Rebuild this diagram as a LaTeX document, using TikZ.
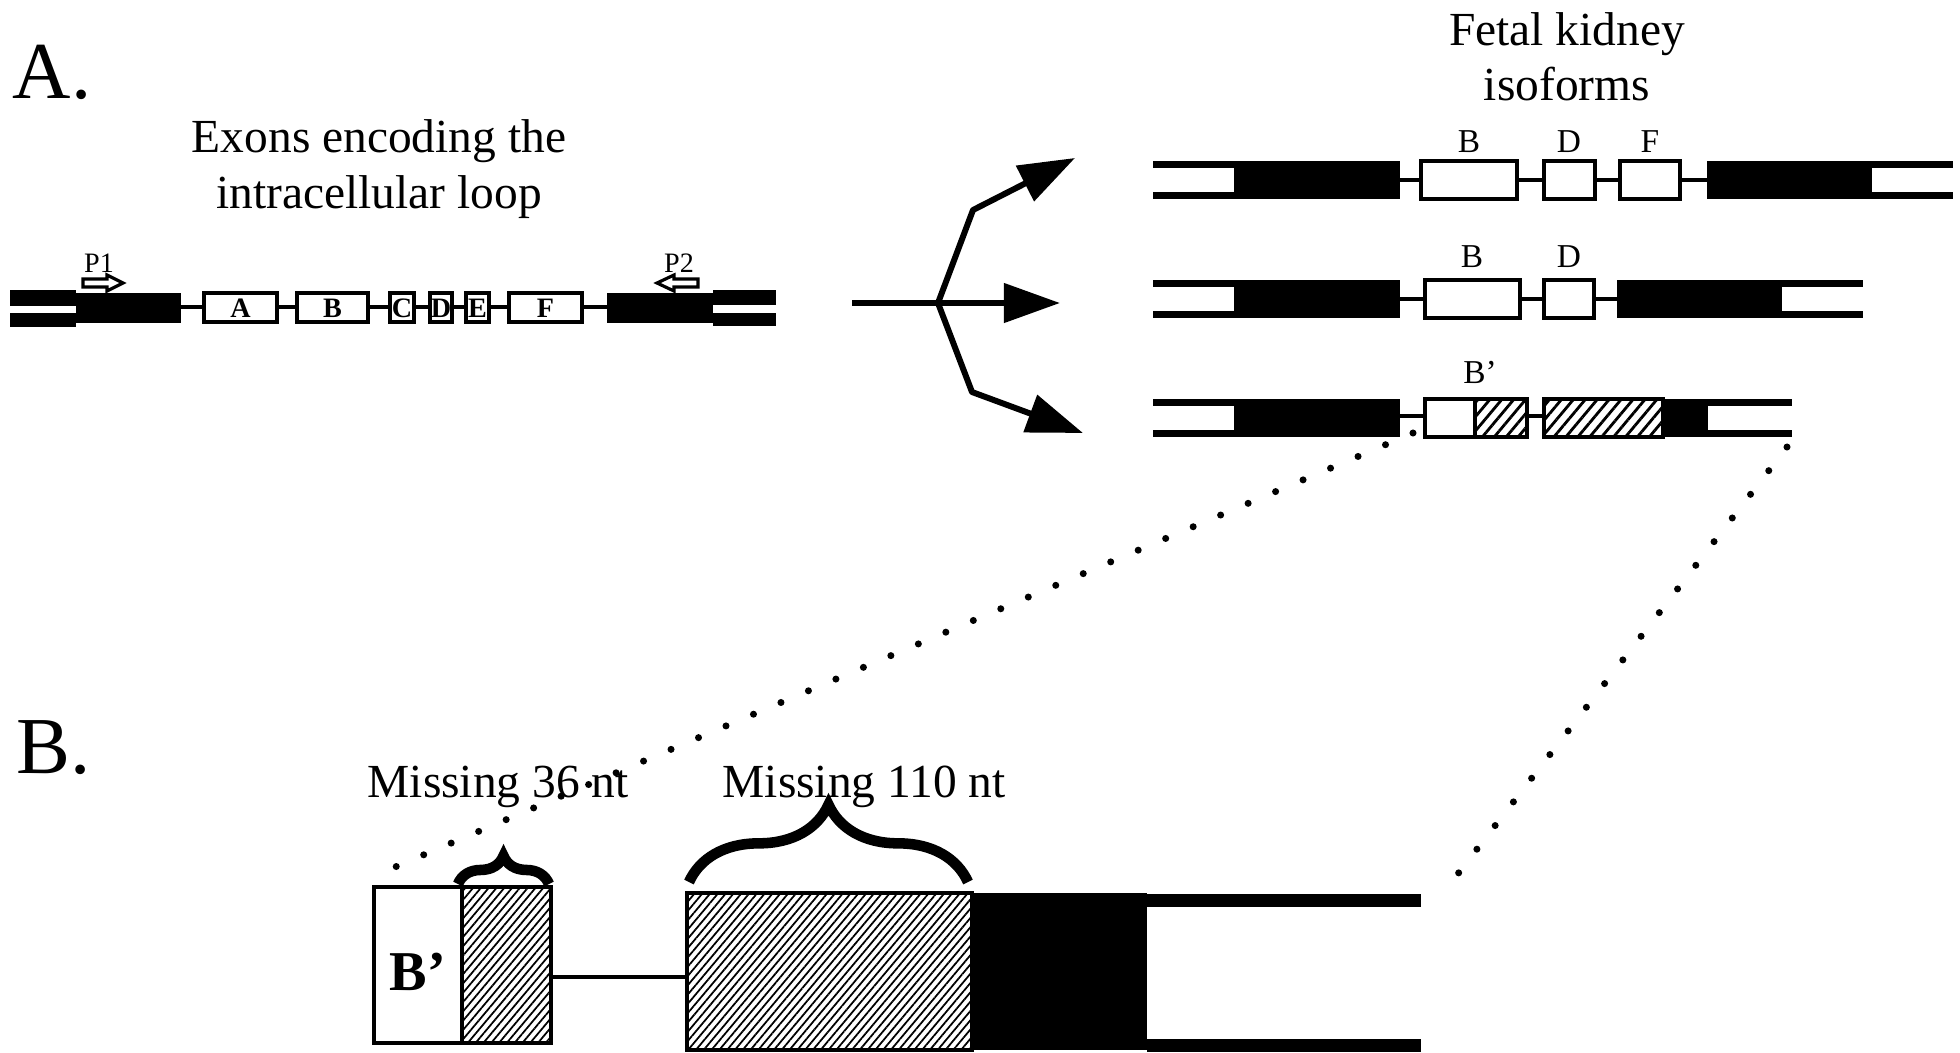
\documentclass[tikz,border=0pt]{standalone}
\usepackage{fontspec}
\setmainfont{Liberation Serif}
\usetikzlibrary{arrows.meta,patterns.meta,decorations.pathreplacing}
\tikzset{
  ex bar/.style={fill=black},
  ex box/.style={draw=black, fill=white, line width=0.9pt},
  ex hatch/.style={draw=black, line width=0.9pt, preaction={fill=white}, pattern={Lines[angle=50,distance=2.6pt,line width=0.8pt]}},
  ex hatch big/.style={draw=black, line width=1pt, preaction={fill=white}, pattern={Lines[angle=50,distance=1.7pt,line width=0.5pt]}},
  ex line/.style={line width=0.9pt},
  ex lbl/.style={font=\fontsize{8}{8}\selectfont\bfseries, inner sep=0pt},
  iso lbl/.style={font=\fontsize{9.5}{10}\selectfont, anchor=base, inner sep=0pt},
  ttl/.style={font=\fontsize{13.5}{16}\selectfont, anchor=base, inner sep=0pt},
  panel/.style={font=\fontsize{23}{23}\selectfont, anchor=base west, inner sep=0pt},
  primer/.style={draw=black, fill=white, line width=0.9pt},
  primer lbl/.style={font=\fontsize{8}{8}\selectfont, anchor=base, inner sep=0pt},
  fork arr/.style={line width=1.7pt, line join=round, -{Triangle[length=16pt,width=11pt]}},
  zoom dots/.style={line width=2pt, line cap=round, dash pattern=on 0pt off 8.5pt},
  gap brace/.style={decorate, line width=3pt, decoration={brace, amplitude=#1}},
}
\begin{document}
\begin{tikzpicture}[x=0.1mm, y=-0.1mm]
  \useasboundingbox (0,0) rectangle (1960,1052);

  % panel A: genomic exons
  \node[panel] (pA) at (12,98) {A.};
  \node[ttl] (tA1) at (379,152) {Exons encoding the};
  \node[ttl] (tA2) at (379,208) {intracellular loop};

  \fill[ex bar] (10,290) rectangle (76,306);
  \fill[ex bar] (10,313) rectangle (76,327);
  \fill[ex bar] (76,293) rectangle (181,323);
  \draw[ex line] (181,307) -- (607,307);
  \foreach \xa/\xb/\lb in {204/277/A,297/368/B,390/414/C,430/452/D,466/489/E,509/582/F} {
    \draw[ex box] (\xa,293) rectangle (\xb,322);
    \node[ex lbl] (ex\lb) at ({(\xa+\xb)/2},308) {\lb};
  }
  \fill[ex bar] (607,293) rectangle (713,323);
  \fill[ex bar] (713,290) rectangle (776,305);
  \fill[ex bar] (713,313) rectangle (776,326);

  % primers
  \node[primer lbl] (p1) at (99,272) {P1};
  \node[primer lbl] (p2) at (679,272) {P2};
  \draw[primer] (83,279) -- (107,279) -- (107,275) -- (123,283) -- (107,291) -- (107,287) -- (83,287) -- cycle;
  \draw[primer] (698,279) -- (674,279) -- (674,275) -- (657,283) -- (674,291) -- (674,287) -- (698,287) -- cycle;

  % splitting arrow
  \coordinate (src) at (852,303);
  \coordinate (fork) at (938,303);
  \coordinate (bendU) at (973,210);
  \coordinate (bendL) at (972,392);
  \coordinate (tipU) at (1075,158);
  \coordinate (tipM) at (1060,303);
  \coordinate (tipL) at (1083,433);
  \draw[fork arr] (src) -- (tipM);
  \draw[fork arr] (fork) -- (bendU) -- (tipU);
  \draw[fork arr] (fork) -- (bendL) -- (tipL);

  % isoforms
  \node[ttl] (fk1) at (1567,45) {Fetal kidney};
  \node[ttl] (fk2) at (1567,100) {isoforms};
  \foreach \yt/\yb in {161/199,280/318,399/437} {
    \fill[ex bar] (1153,\yt) rectangle (1234,\yt+7);
    \fill[ex bar] (1153,\yb-7) rectangle (1234,\yb);
    \fill[ex bar] (1234,\yt) rectangle (1400,\yb);
  }
  % isoform 1
  \draw[ex line] (1400,180) -- (1707,180);
  \foreach \xa/\xb in {1421/1517,1544/1595,1620/1680}
    \draw[ex box] (\xa,161) rectangle (\xb,199);
  \fill[ex bar] (1707,161) rectangle (1872,199);
  \fill[ex bar] (1872,161) rectangle (1953,168);
  \fill[ex bar] (1872,192) rectangle (1953,199);
  \node[iso lbl] (i1B) at (1469,152) {B};
  \node[iso lbl] (i1D) at (1569,152) {D};
  \node[iso lbl] (i1F) at (1650,152) {F};
  % isoform 2
  \draw[ex line] (1400,299) -- (1617,299);
  \foreach \xa/\xb in {1425/1520,1544/1594}
    \draw[ex box] (\xa,280) rectangle (\xb,318);
  \fill[ex bar] (1617,280) rectangle (1782,318);
  \fill[ex bar] (1782,280) rectangle (1863,287);
  \fill[ex bar] (1782,311) rectangle (1863,318);
  \node[iso lbl] (i2B) at (1472,267) {B};
  \node[iso lbl] (i2D) at (1569,267) {D};
  % isoform 3
  \draw[ex line] (1400,416) -- (1544,416);
  \draw[ex box] (1425,399) rectangle (1475,437);
  \draw[ex hatch] (1475,399) rectangle (1527,437);
  \fill[ex bar] (1663,399) rectangle (1708,437);
  \draw[ex hatch] (1544,399) rectangle (1663,437);
  \fill[ex bar] (1708,399) rectangle (1792,406);
  \fill[ex bar] (1708,430) rectangle (1792,437);
  \node[iso lbl] (i3B) at (1480,383) {B’};

  % zoom lines
  \coordinate (zl0) at (1413,433);
  \coordinate (zl1) at (374,876);
  \coordinate (zr0) at (1787,447);
  \coordinate (zr1) at (1447,888);
  \draw[zoom dots] (zl0) -- (zl1);
  \draw[zoom dots] (zr0) -- (zr1);

  % panel B: enlarged B' region
  \node[panel] (pB) at (16,773) {B.};
  \draw[ex box, line width=1pt] (374,887) rectangle (462,1043);
  \draw[ex hatch big] (462,887) rectangle (551,1043);
  \draw[line width=1.1pt] (551,977) -- (687,977);
  \fill[ex bar] (972,893) rectangle (1147,1050);
  \draw[ex hatch big] (687,893) rectangle (972,1050);
  \fill[ex bar] (1147,894) rectangle (1421,907);
  \fill[ex bar] (1147,1039) rectangle (1421,1052);
  \node[font=\fontsize{16}{16}\selectfont\bfseries] (bB) at (418,972) {B’};

  \draw[gap brace=8pt] (458,884) -- (549,884);
  \draw[gap brace=22pt] (689,882) -- (968,882);
  \node[ttl, anchor=base west] (m36) at (367,797) {Missing 36 nt};
  \node[ttl, anchor=base west] (m110) at (722,797) {Missing 110 nt};
\end{tikzpicture}
\end{document}
